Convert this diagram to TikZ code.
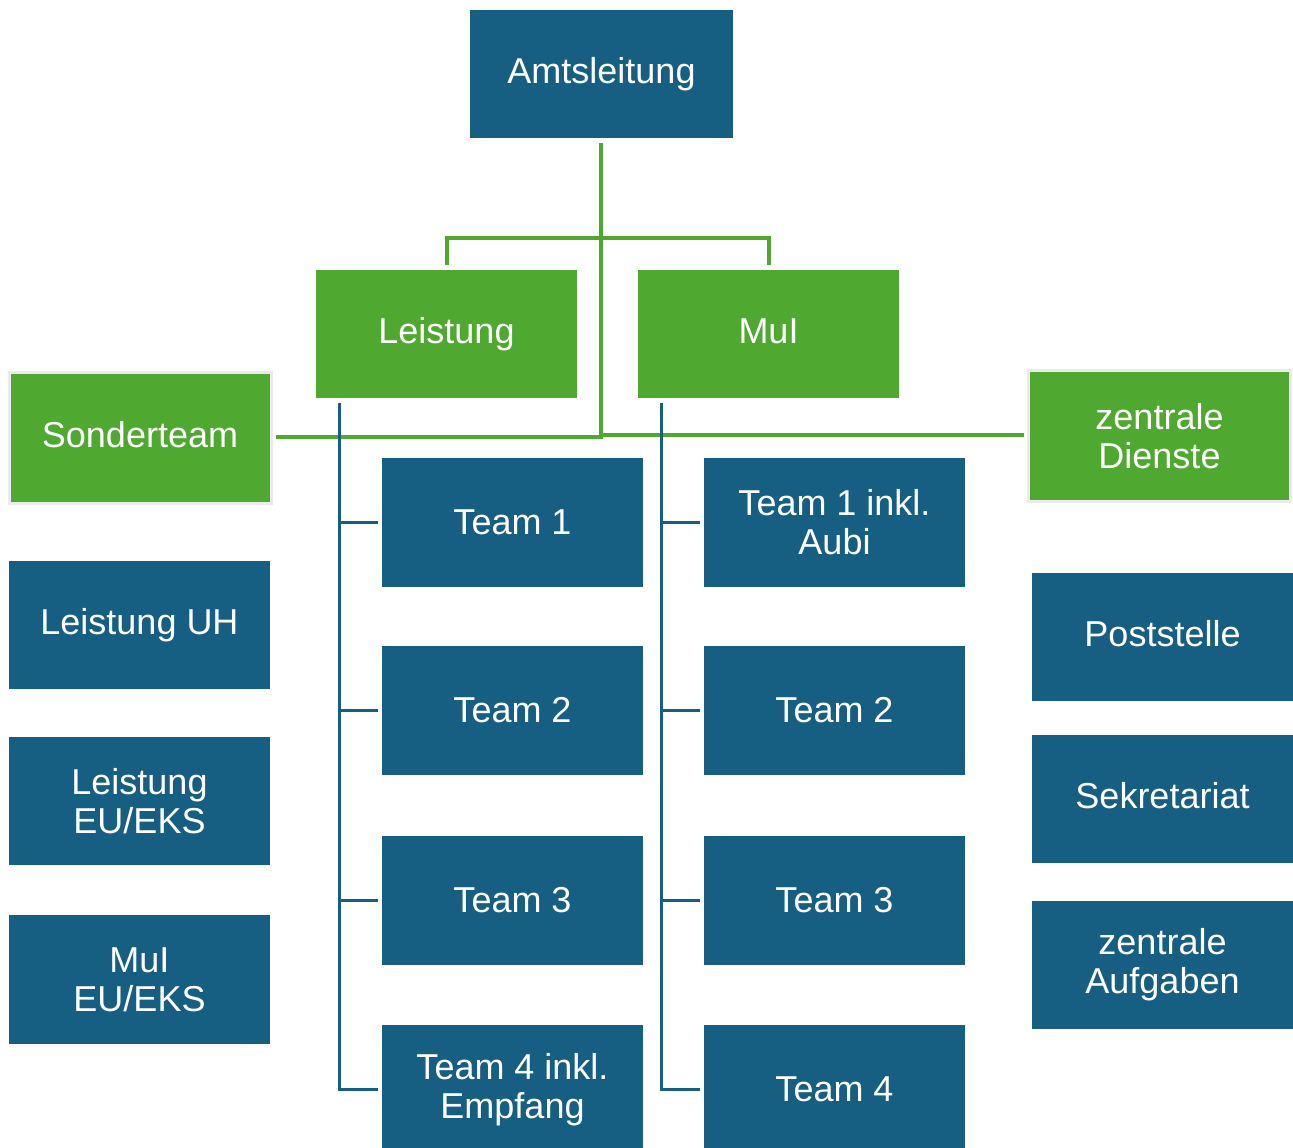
\documentclass[tikz,border=0pt]{standalone}
\usepackage{fontspec}
\setmainfont{Liberation Sans}
\usepackage{tikz}
\usetikzlibrary{calc}
\definecolor{amtblue}{RGB}{23,95,130}
\definecolor{amtgreen}{RGB}{79,168,48}

\tikzset{
	box/.style={rectangle, minimum width=261pt, minimum height=129pt, inner sep=0pt,
		align=center, text=white, font=\fontsize{36}{39}\selectfont},
	oneline/.style={text height=26pt, text depth=7pt},
	bluebox/.style={box, fill=amtblue},
	greenbox/.style={box, fill=amtgreen},
	sidebox/.style={greenbox, draw=black!8, line width=3pt, minimum width=262pt, minimum height=131pt},
	greenline/.style={amtgreen, line width=4pt},
	blueline/.style={amtblue, line width=3pt}
}

\begin{document}
\begin{tikzpicture}[x=1pt,y=-1pt]
		\useasboundingbox (0,0) rectangle (1293,1148);
		\clip (0,0) rectangle (1293,1148);

		% Top levels
		\node[bluebox, oneline, minimum width=263pt, minimum height=128pt] (amt) at (601.5,74) {Amtsleitung};
		\node[greenbox, oneline, minimum height=128pt] (lei) at (446.5,334) {Leistung};
		\node[greenbox, oneline, minimum height=128pt] (mui) at (768.5,334) {MuI};
		\node[sidebox, oneline] (sonder) at (140,438) {Sonderteam};
		\node[sidebox] (zd) at (1159.5,436) {zentrale\\Dienste};

		% Teams under Leistung and MuI
		\foreach \i/\y/\lt/\mt in {1/522/{Team 1}/{Team 1 inkl.\\Aubi},
				2/710.5/{Team 2}/{Team 2},
				3/900/{Team 3}/{Team 3},
				4/1089.5/{Team 4 inkl.\\Empfang}/{Team 4}}{
			\node[bluebox] (lt\i) at (512.5,\y) {\lt};
			\node[bluebox] (mt\i) at (834.5,\y) {\mt};
		}

		% Left and right columns
		\node[bluebox, oneline, minimum height=128pt] (luh) at (139.5,625) {Leistung UH};
		\node[bluebox, minimum height=128pt] (leks) at (139.5,801) {Leistung\\EU/EKS};
		\node[bluebox] (meks) at (139.5,979.5) {MuI\\EU/EKS};
		\node[bluebox, oneline, minimum height=128pt] (post) at (1162.5,637) {Poststelle};
		\node[bluebox, oneline, minimum height=128pt] (sek) at (1162.5,799) {Sekretariat};
		\node[bluebox, minimum height=128pt] (zauf) at (1162.5,965) {zentrale\\Aufgaben};

		% Green connectors
		\coordinate (hub) at (601,437);
		\coordinate (fork) at (601,238);
		\draw[greenline] ([yshift=-5pt]amt.south -| hub) -- (hub) -- ([xshift=3pt]sonder.east |- hub);
		\draw[greenline] ([yshift=5pt]lei.north) |- (fork) -| ([yshift=5pt]mui.north);
		\draw[greenline] (601,435) -- ([xshift=-3pt]zd.west |- 0,435);

		% Blue connectors
		\coordinate (lbus) at (339,403);
		\coordinate (mbus) at (661,403);
		\draw[blueline] (lbus) |- ([xshift=-4pt]lt4.west);
		\draw[blueline] (mbus) |- ([xshift=-4pt]mt4.west);
		\foreach \i in {1,2,3}{
			\draw[blueline] ([xshift=-4pt]lt\i.west) -- (lt\i.west -| lbus);
			\draw[blueline] ([xshift=-4pt]mt\i.west) -- (mt\i.west -| mbus);
		}
	\end{tikzpicture}
\end{document}
